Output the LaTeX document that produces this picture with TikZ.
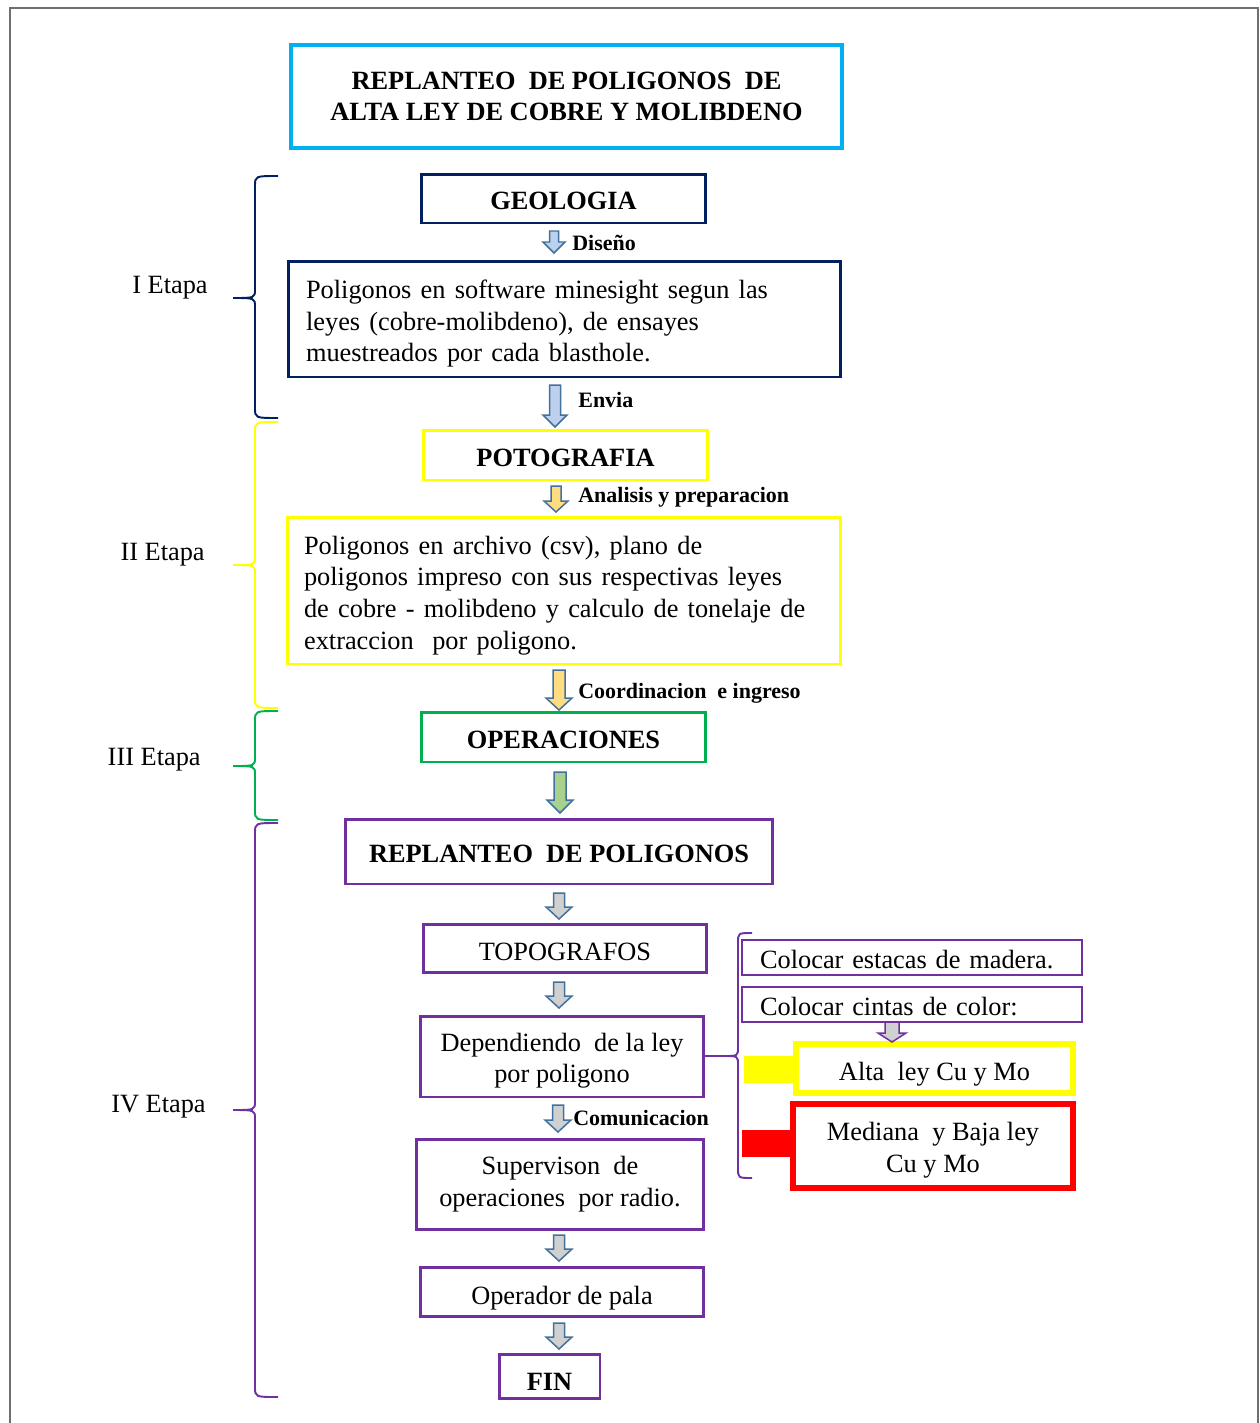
\documentclass[tikz,border=0pt]{standalone}
\usepackage{fontspec}
\setmainfont{Liberation Serif}
\definecolor{navy}{HTML}{002060}
\definecolor{cyanb}{HTML}{00B0F0}
\definecolor{ylw}{HTML}{FFFF00}
\definecolor{grn}{HTML}{00B050}
\definecolor{purp}{HTML}{7030A0}
\definecolor{redb}{HTML}{FF0000}
\definecolor{arrline}{HTML}{41719C}
\definecolor{arrblue}{HTML}{BDD0EE}
\definecolor{arryel}{HTML}{FFDC80}
\definecolor{arrgrn}{HTML}{A9D18E}
\definecolor{arrgray}{HTML}{D0D0D0}
\definecolor{framegray}{HTML}{707070}
\newcommand\barrow[8]{%
  \draw[line width=0.85pt, draw=#8, fill=#7, line join=miter]
    (#1-#4/2,#2) -- (#1+#4/2,#2) -- (#1+#4/2,#3-#6) -- (#1+#5/2,#3-#6) -- (#1,#3)
    -- (#1-#5/2,#3-#6) -- (#1-#4/2,#3-#6) -- cycle;}
\newcommand\ebrace[7]{%
  \draw[#1, line width=1.1pt] (#2,#5) .. controls (#3,#5) .. (#3,#5+10) -- (#3,#6-9)
    .. controls (#3,#6) .. (#4,#6) .. controls (#3,#6) .. (#3,#6+9) -- (#3,#7-10)
    .. controls (#3,#7) .. (#2,#7);}
\newcommand\tstrut[1]{\rule{0pt}{#1}}
\newcommand\widesp{\spaceskip=0.35em\relax}
\begin{document}
\begin{tikzpicture}[x=0.02cm,y=-0.02cm,
  box/.style={draw, inner sep=0pt, outer sep=0pt, align=center,
    font=\fontsize{15}{18}\selectfont},
  body/.style={box, align=left},
  bbox/.style={box, font=\fontsize{15}{17.6}\selectfont\bfseries},
  oneline/.style={text height=#1, text depth=0pt},
  lbl/.style={anchor=west, inner sep=0pt, font=\fontsize{12.5}{14}\selectfont\bfseries},
  etapa/.style={anchor=east, inner sep=0pt, font=\fontsize{15}{18}\selectfont}]
\useasboundingbox (0,0) rectangle (1259,1423);
\draw[framegray, line width=1.2pt] (10,1430) -- (10,8) -- (1258,8) -- (1258,1430);

% main boxes
\node[bbox, draw=cyanb, line width=2.3pt, minimum width=11.02cm, minimum height=2.06cm] (title) at (566.5,96.5)
  {REPLANTEO~ DE POLIGONOS~ DE\\ALTA LEY DE COBRE Y MOLIBDENO};
\node[bbox, oneline=12.5pt, draw=navy, line width=1.7pt, minimum width=5.70cm, minimum height=0.98cm] (geo) at (563.5,198.5) {GEOLOGIA};
\node[body, draw=navy, line width=1.7pt, inner xsep=0.36cm, text width=10.34cm, minimum height=2.32cm] (poly) at (564.5,319)
  {\widesp\tstrut{16pt}Poligonos en software minesight segun las\\leyes (cobre-molibdeno), de ensayes\\muestreados por cada blasthole.};
\node[bbox, oneline=13.3pt, draw=ylw, line width=1.7pt, minimum width=5.70cm, minimum height=1.00cm] (poto) at (565.5,455) {POTOGRAFIA};
\node[body, draw=ylw, line width=1.7pt, inner xsep=0.34cm, text width=10.40cm, minimum height=2.94cm] (arch) at (564,590.5)
  {\widesp\tstrut{16pt}Poligonos en archivo (csv), plano de\\poligonos impreso con sus respectivas leyes\\de cobre - molibdeno y calculo de tonelaje de\\extraccion~ por poligono.};
\node[bbox, oneline=13.3pt, draw=grn, line width=1.7pt, minimum width=5.70cm, minimum height=1.00cm] (oper) at (563.5,737) {OPERACIONES};
\node[bbox, oneline=12.2pt, draw=purp, line width=1.7pt, minimum width=8.56cm, minimum height=1.30cm] (repl) at (559,851.5) {REPLANTEO~ DE POLIGONOS};
\node[box, oneline=14.4pt, draw=purp, line width=1.7pt, minimum width=5.68cm, minimum height=0.96cm] (topo) at (565,948) {TOPOGRAFOS};
\node[box, draw=purp, line width=1.7pt, minimum width=5.68cm, minimum height=1.62cm] (dep) at (562,1056.5) {\tstrut{15pt}Dependiendo~ de la ley\\por poligono};
\node[box, draw=purp, line width=1.7pt, minimum width=5.76cm, minimum height=1.80cm] (sup) at (560,1184) {Supervison~ de\\operaciones~ por radio.};
\node[box, oneline=14.9pt, draw=purp, line width=1.7pt, minimum width=5.68cm, minimum height=0.98cm] (opp) at (562,1291.5) {Operador de pala};
\node[bbox, oneline=16pt, draw=purp, line width=1.7pt, minimum width=2.02cm, minimum height=0.88cm] (fin) at (549.5,1376) {FIN};

% right side
\node[box, oneline=12.4pt, draw=purp, line width=1pt, align=left, inner xsep=0.36cm, text width=6.08cm, minimum height=0.70cm] (est) at (912,957.5) {Colocar estacas de madera.};
\node[box, oneline=12.4pt, draw=purp, line width=1pt, align=left, inner xsep=0.36cm, text width=6.08cm, minimum height=0.70cm] (cin) at (912,1004.5) {Colocar cintas de color:};
\fill[ylw] (744,1056) rectangle (797,1083);
\fill[redb] (742,1130) rectangle (793,1157);
\node[box, oneline=14.2pt, draw=ylw, line width=3.4pt, minimum width=5.54cm, minimum height=0.98cm] (alta) at (934.5,1068.5) {Alta~ ley Cu y Mo};
\node[box, draw=redb, line width=3.2pt, minimum width=5.60cm, minimum height=1.68cm] (med) at (933,1146) {\tstrut{15pt}Mediana~ y Baja ley\\Cu y Mo};
\barrow{892}{1022}{1042}{14}{28}{9}{arrgray}{purp}

% right brace
\ebrace{purp}{752}{738}{724}{933}{1056}{1178}
\coordinate (rtip) at (724,1056);
\draw[purp, line width=1.1pt] (dep.east |- rtip) -- (rtip);

% block arrows
\barrow{554}{231}{253}{9}{22}{11}{arrblue}{arrline}
\barrow{555}{385}{427}{11}{24}{12}{arrblue}{arrline}
\barrow{556}{486}{512}{10}{24}{11}{arryel}{arrline}
\barrow{559}{670}{710}{12}{26}{12}{arryel}{arrline}
\barrow{560}{772}{813}{12}{26}{13}{arrgrn}{arrline}
\barrow{559}{893}{919}{11}{26}{12}{arrgray}{arrline}
\barrow{559}{982}{1008}{11}{26}{12}{arrgray}{arrline}
\barrow{558}{1105}{1132}{11}{26}{12}{arrgray}{arrline}
\barrow{559}{1235}{1261}{11}{26}{12}{arrgray}{arrline}
\barrow{559}{1323}{1349}{11}{26}{12}{arrgray}{arrline}

% arrow labels
\node[lbl] (l1) at (572,243) {Diseño};
\node[lbl] (l2) at (578,400) {Envia};
\node[lbl] (l3) at (578,497) {Analisis y preparacion};
\node[lbl] (l4) at (578,693) {Coordinacion~ e ingreso};
\node[lbl] (l5) at (573,1118) {Comunicacion};

% stage braces
\ebrace{navy}{278}{255}{233}{176}{298}{418}
\ebrace{ylw}{278}{255}{233}{422}{565}{708}
\ebrace{grn}{278}{255}{233}{711}{766}{820}
\ebrace{purp}{278}{255}{233}{823}{1110}{1397}
\node[etapa] (e1) at (208,288) {I Etapa};
\node[etapa] (e2) at (205,555) {II Etapa};
\node[etapa] (e3) at (201,760) {III Etapa};
\node[etapa] (e4) at (206,1107) {IV Etapa};
\end{tikzpicture}
\end{document}
